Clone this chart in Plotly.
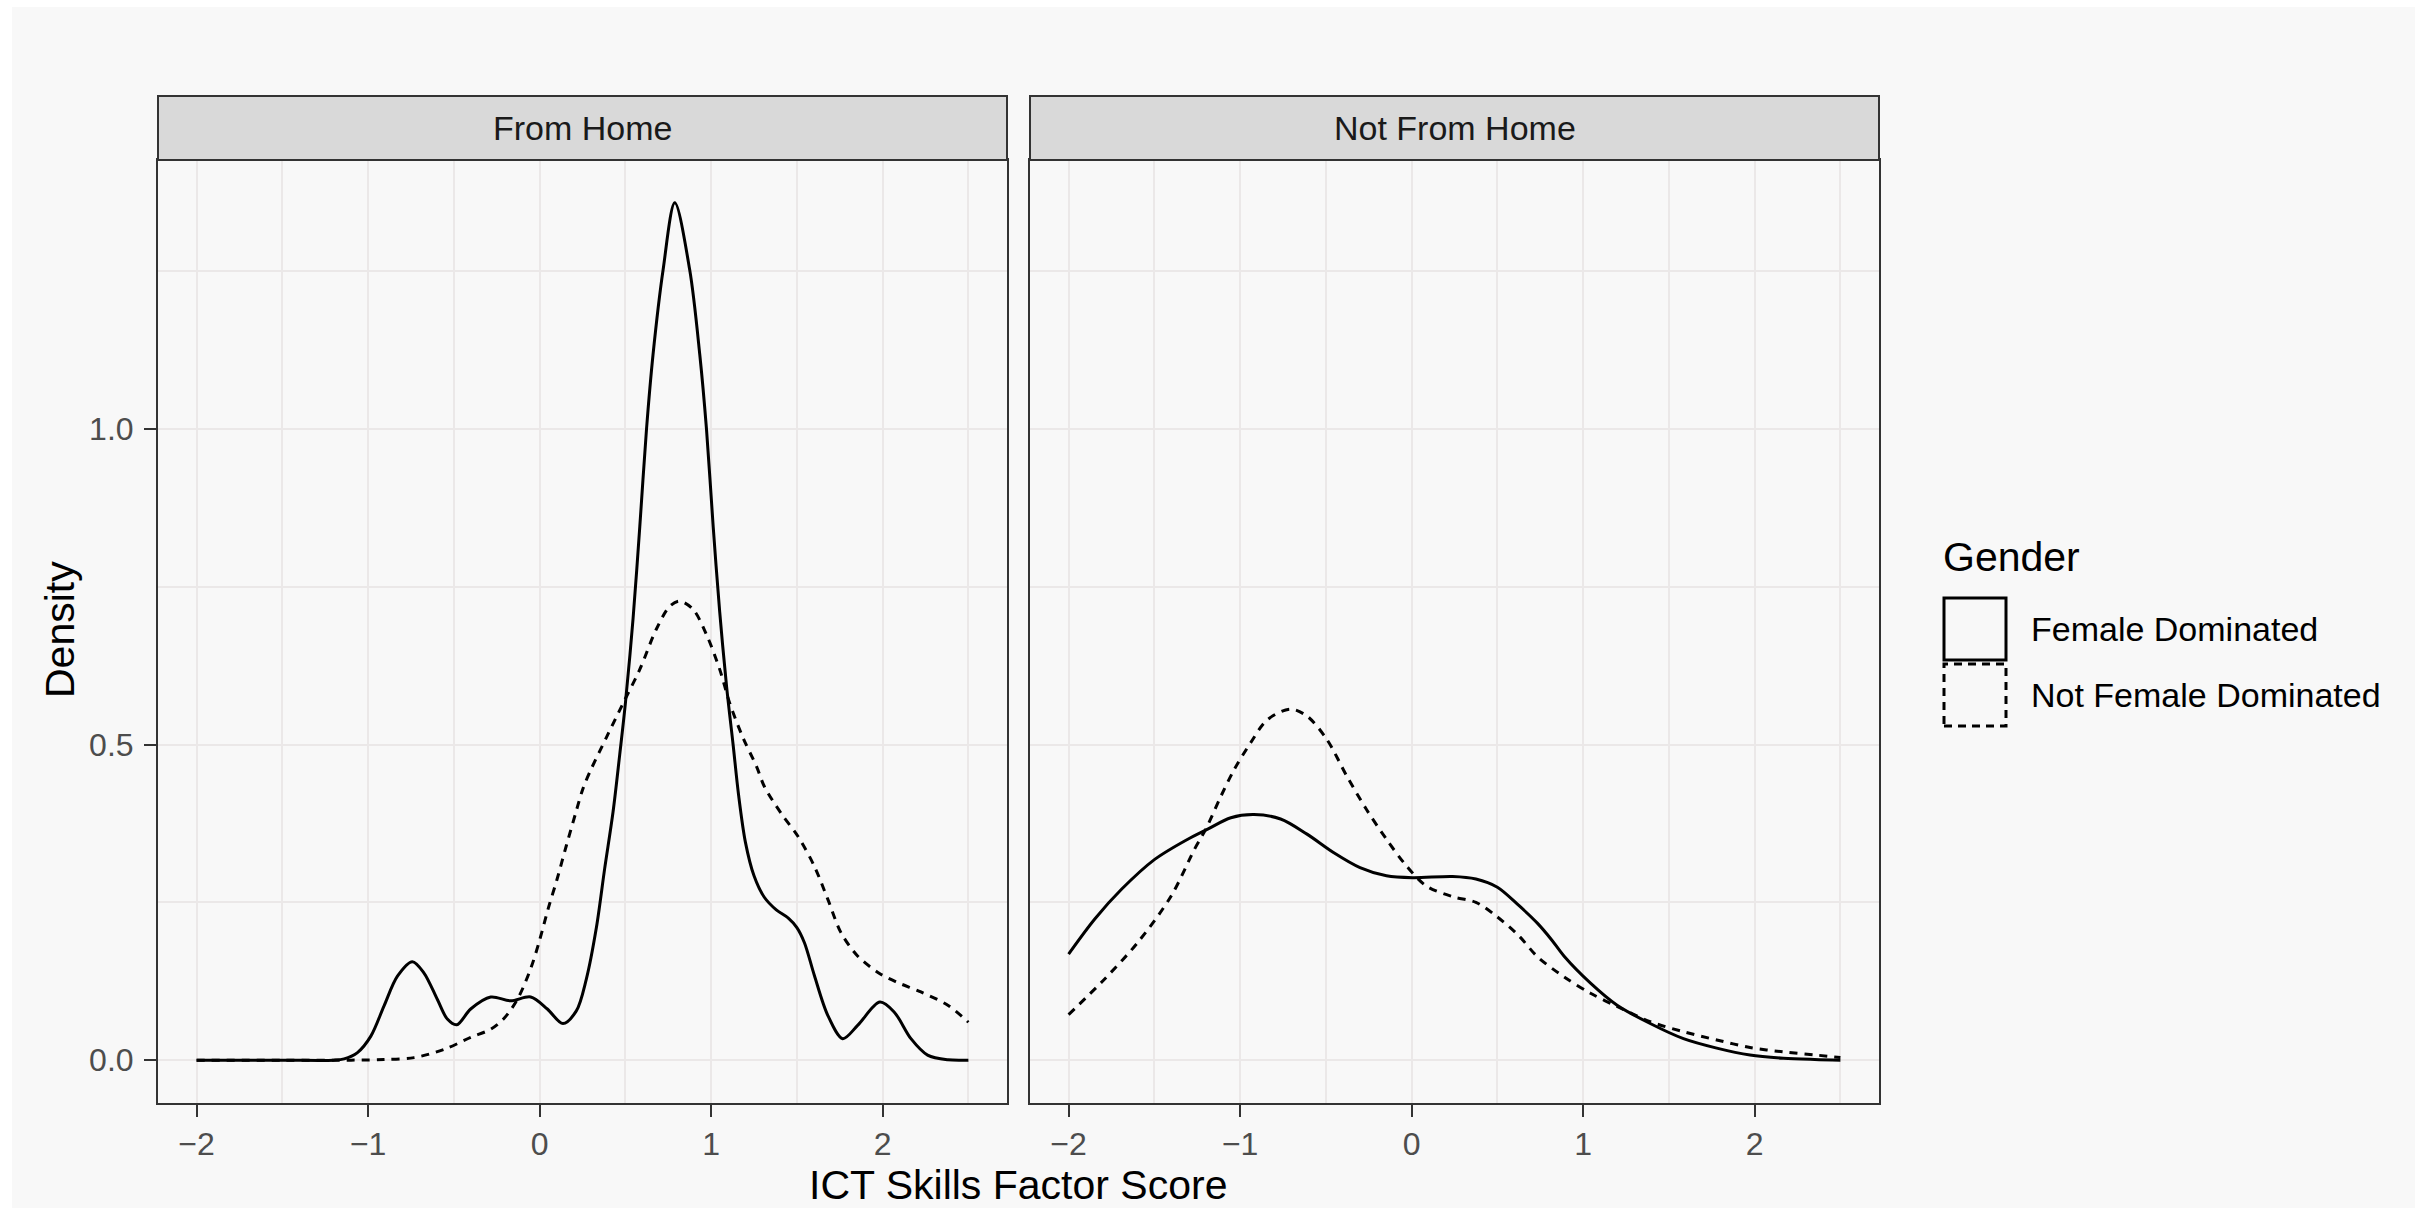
import plotly.graph_objects as go

W, H = 2429, 1208

# ---------------- data ----------------
panels = ["From Home", "Not From Home"]
genders = ["Female Dominated", "Not Female Dominated"]

x_tick_vals = [-2, -1, 0, 1, 2]
x_tick_text = ["\u22122", "\u22121", "0", "1", "2"]
y_tick_vals = [0.0, 0.5, 1.0]
y_tick_text = ["0.0", "0.5", "1.0"]

# From Home - Female Dominated (solid)
fh_female_x = [-2.0, -1.5, -1.2, -1.14, -1.062, -0.984, -0.907, -0.829, -0.742, -0.674,
               -0.596, -0.538, -0.483, -0.402, -0.285, -0.169, -0.052, 0.045, 0.136, 0.214,
               0.272, 0.331, 0.379, 0.428, 0.467, 0.5, 0.545, 0.584, 0.623, 0.661,
               0.72, 0.788, 0.875, 0.934, 0.973, 1.012, 1.05, 1.09, 1.128, 1.16,
               1.2, 1.25, 1.31, 1.38, 1.45, 1.5, 1.544, 1.602, 1.68, 1.767,
               1.854, 1.984, 2.068, 2.165, 2.262, 2.38, 2.5]
fh_female_y = [0.0, 0.0, 0.0, 0.002, 0.012, 0.038, 0.086, 0.133, 0.156, 0.138,
               0.096, 0.065, 0.056, 0.081, 0.100, 0.094, 0.100, 0.081, 0.058, 0.078,
               0.128, 0.21, 0.303, 0.393, 0.484, 0.565, 0.70, 0.845, 0.999, 1.117,
               1.252, 1.358, 1.252, 1.117, 0.999, 0.845, 0.71, 0.592, 0.50, 0.42,
               0.345, 0.292, 0.258, 0.238, 0.225, 0.21, 0.186, 0.134, 0.071, 0.034,
               0.055, 0.092, 0.076, 0.034, 0.008, 0.0005, 0.0]

# From Home - Not Female Dominated (dashed)
fh_other_x = [-2.0, -1.5, -1.1, -0.907, -0.732, -0.557, -0.402, -0.285, -0.208, -0.13,
              -0.052, 0.0, 0.05, 0.1, 0.156, 0.214, 0.25, 0.292, 0.389, 0.486, 0.584,
              0.681, 0.759, 0.817, 0.895, 0.973, 1.05, 1.109, 1.187, 1.265, 1.311,
              1.408, 1.505, 1.602, 1.68, 1.757, 1.854, 1.984, 2.087, 2.223, 2.38, 2.5]
fh_other_y = [0.0, 0.0, 0.0, 0.001, 0.004, 0.017, 0.036, 0.049, 0.066, 0.096,
              0.145, 0.19, 0.24, 0.285, 0.34, 0.395, 0.428, 0.456, 0.511, 0.565, 0.619,
              0.683, 0.719, 0.727, 0.714, 0.674, 0.619, 0.565, 0.51, 0.465, 0.433,
              0.391, 0.355, 0.307, 0.255, 0.202, 0.165, 0.137, 0.123, 0.108, 0.087, 0.060]

# Not From Home - Female Dominated (solid)
nh_female_x = [-2.0, -1.846, -1.69, -1.498, -1.305, -1.189, -1.054, -0.919, -0.764, -0.61,
               -0.456, -0.301, -0.147, 0.006, 0.239, 0.375, 0.5, 0.625, 0.733, 0.818,
               0.888, 1.043, 1.198, 1.391, 1.585, 1.779, 1.973, 2.167, 2.35, 2.5]
nh_female_y = [0.168, 0.224, 0.271, 0.318, 0.35, 0.366, 0.384, 0.389, 0.382, 0.358,
               0.329, 0.305, 0.292, 0.289, 0.291, 0.287, 0.274, 0.245, 0.217, 0.19,
               0.165, 0.122, 0.087, 0.058, 0.034, 0.019, 0.008, 0.003, 0.001, 0.0]

# Not From Home - Not Female Dominated (dashed)
nh_other_x = [-2.0, -1.788, -1.595, -1.402, -1.266, -1.2, -1.112, -1.035, -0.938, -0.842,
              -0.707, -0.61, -0.494, -0.378, -0.263, -0.147, -0.031, 0.085, 0.239, 0.375,
              0.49, 0.625, 0.733, 0.888, 1.043, 1.198, 1.391, 1.585, 1.779, 1.973,
              2.167, 2.36, 2.5]
nh_other_y = [0.072, 0.129, 0.187, 0.26, 0.334, 0.366, 0.418, 0.46, 0.503, 0.539,
              0.556, 0.545, 0.508, 0.45, 0.397, 0.35, 0.308, 0.276, 0.259, 0.25,
              0.229, 0.197, 0.164, 0.132, 0.106, 0.085, 0.061, 0.045, 0.032, 0.02,
              0.013, 0.008, 0.004]

# ---------------- geometry helpers ----------------
def px(x):
    return x / W

def py(y):
    return (H - y) / H

FONT = "Liberation Sans, Arial, Helvetica, sans-serif"
BG = "#F8F8F8"
GRID = "#EBE8E8"
BORDER = "#333333"
DASH = "8px,7px"

p1 = (158, 1007)
p2 = (1030, 1879)
top, bottom = 160, 1103
strip_top = 96

fig = go.Figure()

series = [
    (fh_female_x, fh_female_y, "x", "y", "solid", genders[0]),
    (fh_other_x, fh_other_y, "x", "y", DASH, genders[1]),
    (nh_female_x, nh_female_y, "x2", "y2", "solid", genders[0]),
    (nh_other_x, nh_other_y, "x2", "y2", DASH, genders[1]),
]
for xs, ys, xa, ya, dash, name in series:
    fig.add_trace(go.Scatter(
        x=xs, y=ys, xaxis=xa, yaxis=ya, mode="lines", name=name,
        line=dict(color="black", width=3, dash=dash, shape="spline", smoothing=0.9),
        showlegend=False, hoverinfo="skip"))

xrange = [-2.225, 2.725]
yrange = [-0.0679, 1.4259]

common_x = dict(
    range=xrange, tickvals=x_tick_vals, ticktext=x_tick_text,
    showgrid=True, gridcolor=GRID, gridwidth=2, zeroline=False,
    showline=True, linecolor=BORDER, linewidth=2, mirror=True,
    ticks="outside", ticklen=12, tickwidth=2, tickcolor=BORDER,
    tickfont=dict(family=FONT, size=32, color="#4D4D4D"),
    minor=dict(tickvals=[-1.5, -0.5, 0.5, 1.5, 2.5], showgrid=True,
               gridcolor=GRID, gridwidth=1.5, ticks=""),
    fixedrange=True,
)
common_y = dict(
    range=yrange, tickvals=y_tick_vals, ticktext=y_tick_text,
    showgrid=True, gridcolor=GRID, gridwidth=2, zeroline=False,
    showline=True, linecolor=BORDER, linewidth=2, mirror=True,
    minor=dict(tickvals=[0.25, 0.75, 1.25], showgrid=True,
               gridcolor=GRID, gridwidth=1.5, ticks=""),
    domain=[py(bottom), py(top)],
    fixedrange=True,
)

fig.update_layout(
    width=W, height=H,
    margin=dict(l=0, r=0, t=0, b=0),
    paper_bgcolor="white",
    plot_bgcolor=BG,
    showlegend=False,
    xaxis=dict(common_x, domain=[px(p1[0]), px(p1[1])], anchor="y"),
    xaxis2=dict(common_x, domain=[px(p2[0]), px(p2[1])], anchor="y2"),
    yaxis=dict(common_y, anchor="x", ticks="outside", ticklen=12, tickwidth=2,
               tickcolor=BORDER, ticklabelstandoff=4,
               tickfont=dict(family=FONT, size=32, color="#4D4D4D")),
    yaxis2=dict(common_y, anchor="x2", matches="y", showticklabels=False, ticks=""),
)

shapes = [
    # outer light-grey canvas
    dict(type="rect", xref="paper", yref="paper", layer="below",
         x0=px(12), x1=px(2415), y0=0, y1=py(7),
         fillcolor=BG, line=dict(width=0)),
]
annotations = []
for (l, r), name in zip([p1, p2], panels):
    shapes.append(dict(type="rect", xref="paper", yref="paper",
                       x0=px(l), x1=px(r), y0=py(top), y1=py(strip_top),
                       fillcolor="#D9D9D9", line=dict(color=BORDER, width=2)))
    annotations.append(dict(text=name, xref="paper", yref="paper",
                            x=px((l + r) / 2), y=py((top + strip_top) / 2),
                            xanchor="center", yanchor="middle", showarrow=False,
                            font=dict(family=FONT, size=34, color="#1A1A1A")))

# axis titles
annotations.append(dict(text="ICT Skills Factor Score", xref="paper", yref="paper",
                        x=px((p1[0] + p2[1]) / 2), y=py(1185), xanchor="center",
                        yanchor="middle", showarrow=False,
                        font=dict(family=FONT, size=41, color="black")))
annotations.append(dict(text="Density", xref="paper", yref="paper",
                        x=px(60), y=py(630), xanchor="center", yanchor="middle",
                        textangle=-90, showarrow=False,
                        font=dict(family=FONT, size=41, color="black")))

# legend (drawn manually)
annotations.append(dict(text="Gender", xref="paper", yref="paper",
                        x=px(1941), y=py(557), xanchor="left", yanchor="middle",
                        showarrow=False, font=dict(family=FONT, size=41, color="black")))
key_rows = [(598, 660, "solid", genders[0]), (664, 726, "dash", genders[1])]
for y0, y1, d, label in key_rows:
    shapes.append(dict(type="rect", xref="paper", yref="paper",
                       x0=px(1944), x1=px(2006), y0=py(y1), y1=py(y0),
                       fillcolor="rgba(0,0,0,0)",
                       line=dict(color="black", width=3,
                                 dash="solid" if d == "solid" else "8px,6px")))
    annotations.append(dict(text=label, xref="paper", yref="paper",
                            x=px(2029), y=py((y0 + y1) / 2), xanchor="left",
                            yanchor="middle", showarrow=False,
                            font=dict(family=FONT, size=34, color="black")))

fig.update_layout(shapes=shapes, annotations=annotations)

fig.write_html("out.html")
